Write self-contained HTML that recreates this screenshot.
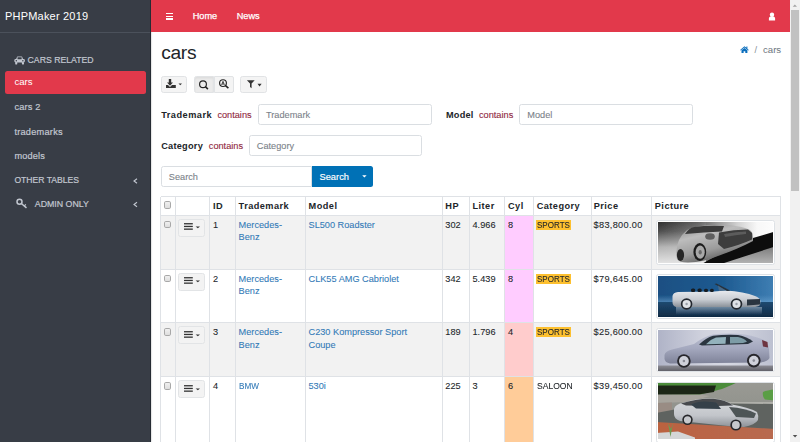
<!DOCTYPE html>
<html><head><meta charset="utf-8">
<style>
*{box-sizing:border-box;margin:0;padding:0}
html,body{width:800px;height:442px;overflow:hidden;background:#fff;font-family:"Liberation Sans",sans-serif;color:#212529}
.a{position:absolute;white-space:nowrap;line-height:1}
#sb{position:absolute;left:0;top:0;width:151px;height:442px;background:#383d46;border-right:1px solid #262b33;box-shadow:.5px 0 1.5px rgba(0,0,0,.25)}
#brand{position:absolute;left:0;top:0;width:150px;height:33px;border-bottom:1px solid #4b515b}
.sbt{color:#c2c7d0;font-size:9.2px;-webkit-text-stroke:.2px #c2c7d0}
#nav{position:absolute;left:151px;top:0;width:639px;height:32px;background:#e2394b}
.nt{color:#fff;font-size:9.2px;-webkit-text-stroke:.25px #fff}
#scr{position:absolute;left:790px;top:0;width:10px;height:442px;background:#f1f1f1}
#thumb{position:absolute;left:791px;top:10px;width:8px;height:181.4px;background:#c1c1c1}
.btn{position:absolute;background:#f4f4f4;border:1px solid #e1e3e5;border-radius:2.5px}
.inp{position:absolute;background:#fff;border:1px solid #dadee2;border-radius:2.5px}
.ph{color:#7b8289;font-size:9.2px;-webkit-text-stroke:.1px currentColor}
.lbl{font-weight:bold;font-size:9.2px;letter-spacing:.5px;color:#212529}
.op{color:#912a42;font-size:9.2px;-webkit-text-stroke:.12px currentColor}
.hl{position:absolute;height:1px;background:#dee2e6}
.vl{position:absolute;width:1px;background:#dee2e6}
.th{font-weight:bold;font-size:9.2px;letter-spacing:.45px}
.td{font-size:9.2px;-webkit-text-stroke:.08px currentColor}
.lk{color:#337ab7}
.cb{position:absolute;width:7.4px;height:7.5px;border:1px solid #a8a8a8;border-radius:1.8px;background:linear-gradient(#f0f0f0,#dedede)}
.dd{position:absolute;width:27px;height:18.2px;background:#f3f3f3;border:1px solid #e2e4e6;border-radius:2.5px}
.frm{position:absolute;background:#fff;border:1px solid #dee2e6;border-radius:2.5px}
</style></head><body>
<div id="sb">
 <div id="brand"></div>
</div>
<div class="a" style="left:5px;top:11px;color:#fff;font-size:11px;letter-spacing:.2px">PHPMaker 2019</div>
<!-- sidebar items -->
<div class="a sbt" style="left:27.6px;top:55.8px;font-size:8.7px">CARS RELATED</div>
<div style="position:absolute;left:5px;top:71px;width:141px;height:22.6px;background:#e2394b;border-radius:2.5px"></div>
<div class="a" style="left:14.4px;top:76.8px;color:#fff;font-size:9.6px">cars</div>
<div class="a sbt" style="left:14.4px;top:103.3px;letter-spacing:.2px">cars 2</div>
<div class="a sbt" style="left:14.4px;top:127.5px;letter-spacing:.25px">trademarks</div>
<div class="a sbt" style="left:14.4px;top:151.8px;letter-spacing:.15px">models</div>
<div class="a sbt" style="left:14.4px;top:176.3px;font-size:8.6px">OTHER TABLES</div>
<div class="a sbt" style="left:34.8px;top:200.2px;font-size:8.8px">ADMIN ONLY</div>
<svg style="position:absolute;left:130px;top:175px" width="10" height="36" viewBox="0 0 10 36"><g fill="none" stroke="#c2c7d0" stroke-width="1.1"><polyline points="7,3.8 4,6 7,8.2"/><polyline points="7,27.2 4,29.5 7,31.8"/></g></svg>
<svg style="position:absolute;left:13.6px;top:56.2px" width="11.2" height="8.6" viewBox="0 0 12 9" preserveAspectRatio="none"><g fill="#c2c7d0"><path d="M2.2,3.4 L3.3,0.7 Q3.5,0.4 3.9,0.4 L8.1,0.4 Q8.5,0.4 8.7,0.7 L9.8,3.4 Z"/><rect x="0.4" y="3.2" width="11.2" height="3.6" rx="1.2"/><rect x="1.3" y="6.4" width="2.2" height="2.4" rx=".5"/><rect x="8.5" y="6.4" width="2.2" height="2.4" rx=".5"/></g><rect x="3.8" y="1.3" width="4.4" height="2.1" fill="#383d46"/><circle cx="2.5" cy="5" r=".8" fill="#383d46"/><circle cx="9.5" cy="5" r=".8" fill="#383d46"/></svg>
<svg style="position:absolute;left:15px;top:197px" width="13" height="12" viewBox="0 0 13 12"><g fill="none" stroke="#c2c7d0"><circle cx="4.5" cy="4.7" r="2.5" stroke-width="1.5"/><line x1="6.3" y1="6.5" x2="11.5" y2="10.8" stroke-width="1.5"/><line x1="9.3" y1="8.8" x2="10.8" y2="7.3" stroke-width="1.2"/></g></svg>

<!-- navbar -->
<div id="nav"></div>
<div style="position:absolute;left:165.5px;top:13px;width:7.5px;height:1.4px;background:#fff"></div>
<div style="position:absolute;left:165.5px;top:15.7px;width:7.5px;height:1.4px;background:#fff"></div>
<div style="position:absolute;left:165.5px;top:18.3px;width:7.5px;height:1.4px;background:#fff"></div>
<div class="a nt" style="left:192.7px;top:11.8px">Home</div>
<div class="a nt" style="left:236.7px;top:11.8px">News</div>
<svg style="position:absolute;left:768px;top:11.5px" width="8" height="9" viewBox="0 0 8 9"><circle cx="4" cy="2.7" r="2.2" fill="#fff"/><path d="M0.9,8.6 L0.9,6.6 Q0.9,4.6 2.9,4.6 L5.1,4.6 Q7.1,4.6 7.1,6.6 L7.1,8.6 Z" fill="#fff"/></svg>

<!-- content -->
<div class="a" style="left:161.3px;top:42.9px;font-size:19.2px;letter-spacing:-.35px;color:#212529">cars</div>
<svg style="position:absolute;left:739.8px;top:45.8px" width="9" height="7.4" viewBox="0 0 9 7.4"><path d="M4.45,0.2 L0.1,3.9 L0.7,4.5 L4.45,1.4 L8.2,4.5 L8.8,3.9 L7.4,2.7 L7.4,0.5 L6.4,0.5 L6.4,1.8 Z" fill="#0a6ebd"/><path d="M1.5,4.3 L4.45,1.9 L7.4,4.3 L7.4,7.2 L5.3,7.2 L5.3,5.2 L3.6,5.2 L3.6,7.2 L1.5,7.2 Z" fill="#0a6ebd"/></svg>
<div class="a" style="left:754.5px;top:45.8px;font-size:9.2px;color:#868e96">/</div>
<div class="a" style="left:763px;top:44.9px;font-size:9.6px;color:#6c757d">cars</div>

<div class="btn" style="left:161.3px;top:76.2px;width:26.2px;height:17.3px"></div>
<div class="btn" style="left:194px;top:76.2px;width:20px;height:17.3px;background:#ebebeb;border-radius:2.5px 0 0 2.5px;box-shadow:inset 0 1.5px 2px rgba(0,0,0,.06)"></div>
<div class="btn" style="left:213.5px;top:76.2px;width:20px;height:17.3px;border-radius:0 2px 2px 0"></div>
<div class="btn" style="left:240.2px;top:76.2px;width:26.5px;height:17.3px"></div>
<svg style="position:absolute;left:165px;top:78px" width="20" height="12" viewBox="0 0 20 12"><g fill="#333"><path d="M3.8,1 L6.2,1 L6.2,4.5 L8,4.5 L5,7.8 L2,4.5 L3.8,4.5 Z"/><path d="M1,7 L3,7 L5,9 L7,7 L10.8,7 L10.8,10 L1,10 Z"/><path d="M13.5,5.5 L17,5.5 L15.25,7.2 Z"/></g></svg>
<svg style="position:absolute;left:196px;top:77px" width="36" height="16" viewBox="0 0 36 16"><g fill="none" stroke="#222"><circle cx="7" cy="7.2" r="3.4" stroke-width="1.15"/><line x1="9.5" y1="9.7" x2="11.9" y2="12.1" stroke-width="1.6"/><circle cx="27" cy="6.1" r="3.4" stroke-width="1.15"/><line x1="29.5" y1="8.6" x2="32.4" y2="11.1" stroke-width="1.6"/><path d="M25.6,7.9 L27,4.3 L28.4,7.9 M26,7 L28,7" stroke-width=".8"/></g></svg>
<svg style="position:absolute;left:246px;top:79px" width="18" height="11" viewBox="0 0 18 11"><g fill="#333"><path d="M0.9,1.2 L8.7,1.2 L5.6,4.6 L5.6,9.2 L4,8 L4,4.6 Z"/><path d="M11.5,4.8 L15.6,4.8 L13.55,7.4 Z"/></g></svg>

<div class="a lbl" style="left:161.2px;top:110.8px">Trademark</div>
<div class="a op" style="left:217.4px;top:111px">contains</div>
<div class="inp" style="left:258px;top:104px;width:173.5px;height:21px"></div>
<div class="a ph" style="left:266px;top:111px">Trademark</div>
<div class="a lbl" style="left:446px;top:110.8px;letter-spacing:.2px">Model</div>
<div class="a op" style="left:479px;top:111px">contains</div>
<div class="inp" style="left:519.3px;top:104px;width:173.5px;height:21px"></div>
<div class="a ph" style="left:527.3px;top:111px">Model</div>

<div class="a lbl" style="left:161.2px;top:142px;letter-spacing:.25px">Category</div>
<div class="a op" style="left:208.8px;top:142px">contains</div>
<div class="inp" style="left:248.8px;top:135.2px;width:173.5px;height:20.5px"></div>
<div class="a ph" style="left:256.8px;top:142px">Category</div>

<div class="inp" style="left:161.2px;top:165.6px;width:151px;height:21.2px;border-radius:2.5px 0 0 2.5px"></div>
<div class="a ph" style="left:168.8px;top:172.5px">Search</div>
<div style="position:absolute;left:311.6px;top:165.6px;width:61.1px;height:21.2px;background:#0071b6;border-radius:0 2.5px 2.5px 0"></div>
<div class="a" style="left:319.5px;top:172.8px;font-size:9.3px;color:#fff;-webkit-text-stroke:.15px #fff">Search</div>
<svg style="position:absolute;left:361px;top:174px" width="7" height="5" viewBox="0 0 7 5"><path d="M1.2,1.2 L5.6,1.2 L3.4,3.5 Z" fill="#fff"/></svg>
<!--T-->
<div style="position:absolute;left:160.6px;top:196.6px;width:620.1999999999999px;height:253.4px;background:#fff"></div>
<div style="position:absolute;left:160.6px;top:215.2px;width:620.1999999999999px;height:54.10000000000002px;background:#f2f2f2"></div>
<div style="position:absolute;left:160.6px;top:322.9px;width:620.1999999999999px;height:54.0px;background:#f2f2f2"></div>
<div style="position:absolute;left:504.8px;top:215.2px;width:28.69999999999999px;height:54.10000000000002px;background:#ffccff"></div>
<div style="position:absolute;left:504.8px;top:269.3px;width:28.69999999999999px;height:53.599999999999966px;background:#ffccff"></div>
<div style="position:absolute;left:504.8px;top:322.9px;width:28.69999999999999px;height:54.0px;background:#ffcccc"></div>
<div style="position:absolute;left:504.8px;top:376.9px;width:28.69999999999999px;height:73.10000000000002px;background:#ffcc99"></div>
<div style="position:absolute;left:160.6px;top:196.1px;width:620.1999999999999px;height:1px;background:#dfe2e6"></div>
<div style="position:absolute;left:160.6px;top:214.5px;width:620.1999999999999px;height:1px;background:#dfe2e6"></div>
<div style="position:absolute;left:160.6px;top:268.8px;width:620.1999999999999px;height:1px;background:#dfe2e6"></div>
<div style="position:absolute;left:160.6px;top:322.4px;width:620.1999999999999px;height:1px;background:#dfe2e6"></div>
<div style="position:absolute;left:160.6px;top:376.4px;width:620.1999999999999px;height:1px;background:#dfe2e6"></div>
<div style="position:absolute;left:160.1px;top:196.6px;width:1px;height:253.4px;background:#dfe2e6"></div>
<div style="position:absolute;left:174.9px;top:196.6px;width:1px;height:253.4px;background:#dfe2e6"></div>
<div style="position:absolute;left:208.9px;top:196.6px;width:1px;height:253.4px;background:#dfe2e6"></div>
<div style="position:absolute;left:234.9px;top:196.6px;width:1px;height:253.4px;background:#dfe2e6"></div>
<div style="position:absolute;left:304.9px;top:196.6px;width:1px;height:253.4px;background:#dfe2e6"></div>
<div style="position:absolute;left:441.6px;top:196.6px;width:1px;height:253.4px;background:#dfe2e6"></div>
<div style="position:absolute;left:468.8px;top:196.6px;width:1px;height:253.4px;background:#dfe2e6"></div>
<div style="position:absolute;left:504.3px;top:196.6px;width:1px;height:253.4px;background:#dfe2e6"></div>
<div style="position:absolute;left:533.0px;top:196.6px;width:1px;height:253.4px;background:#dfe2e6"></div>
<div style="position:absolute;left:590.5px;top:196.6px;width:1px;height:253.4px;background:#dfe2e6"></div>
<div style="position:absolute;left:651.0px;top:196.6px;width:1px;height:253.4px;background:#dfe2e6"></div>
<div style="position:absolute;left:780.3px;top:196.6px;width:1px;height:253.4px;background:#dfe2e6"></div>
<div class="a th" style="left:213px;top:201.61px">ID</div>
<div class="a th" style="left:238.6px;top:201.61px">Trademark</div>
<div class="a th" style="left:308.6px;top:201.61px">Model</div>
<div class="a th" style="left:445.3px;top:201.61px">HP</div>
<div class="a th" style="left:472.5px;top:201.61px">Liter</div>
<div class="a th" style="left:508px;top:201.61px">Cyl</div>
<div class="a th" style="left:536.7px;top:201.61px">Category</div>
<div class="a th" style="left:593.75px;top:201.61px">Price</div>
<div class="a th" style="left:654.8px;top:201.61px">Picture</div>
<div class="cb" style="left:164px;top:201.4px"></div>
<div class="cb" style="left:164px;top:220.5px"></div>
<div class="dd" style="left:178.2px;top:218.5px"></div>
<svg style="position:absolute;left:183px;top:222.2px" width="19" height="8" viewBox="0 0 19 8"><g fill="#333"><rect x="1" y="1.1" width="8.8" height="1.3"/><rect x="1" y="3.8" width="8.8" height="1.3"/><rect x="1" y="6.5" width="8.8" height="1.3"/><path d="M12.6,4.4 L17,4.4 L14.8,6.3 Z"/></g></svg>
<div class="a td" style="left:213px;top:220.51px">1</div>
<div class="a td lk" style="left:238.6px;top:220.51px">Mercedes-</div>
<div class="a td lk" style="left:238.6px;top:232.91px">Benz</div>
<div class="a td lk" style="left:308.5px;top:220.51px">SL500 Roadster</div>
<div class="a td" style="left:445.3px;top:220.51px">302</div>
<div class="a td" style="left:472.5px;top:220.51px">4.966</div>
<div class="a td" style="left:508px;top:220.51px">8</div>
<div style="position:absolute;left:536.2px;top:219.5px;width:34.5px;height:10px;background:#fdc02f"></div>
<div class="a td" style="left:537px;top:220.51px;transform:scaleX(0.875);transform-origin:0 0">SPORTS</div>
<div class="a td" style="left:593.6px;top:220.51px;letter-spacing:.3px">$83,800.00</div>
<div class="frm" style="left:655.7px;top:220.1px;width:119.1px;height:44.7px"></div>
<!--IMG0--><svg style="position:absolute;left:657.8px;top:222.1px" width="115" height="41" viewBox="0 0 115 41" preserveAspectRatio="none">
<defs><linearGradient id="a1" x1="0" y1="0" x2="1" y2="0"><stop offset="0" stop-color="#262626"/><stop offset=".35" stop-color="#5e5e5e"/><stop offset=".68" stop-color="#cfcfcf"/><stop offset=".85" stop-color="#f8f8f8"/><stop offset="1" stop-color="#fdfdfd"/></linearGradient>
<linearGradient id="a2" x1="0" y1="0" x2="0" y2="1"><stop offset="0" stop-color="#e2e2e2" stop-opacity="0"/><stop offset=".25" stop-color="#e2e2e2" stop-opacity=".2"/><stop offset=".6" stop-color="#e2e2e2" stop-opacity=".75"/><stop offset="1" stop-color="#e8e8e8" stop-opacity="1"/></linearGradient>
<linearGradient id="a3" x1="0" y1="0" x2="0" y2="1"><stop offset="0" stop-color="#777"/><stop offset="1" stop-color="#b8b8b8"/></linearGradient>
<linearGradient id="s1" x1="0" y1="0" x2=".5" y2="1"><stop offset="0" stop-color="#7e7e7e"/><stop offset=".35" stop-color="#bdbdbd"/><stop offset=".7" stop-color="#9c9c9c"/><stop offset="1" stop-color="#5a5a5a"/></linearGradient>
<filter id="bl1"><feGaussianBlur stdDeviation=".5"/></filter></defs>
<g filter="url(#bl1)">
<rect x="-2" y="-2" width="119" height="45" fill="url(#a1)"/>
<rect x="-2" y="-2" width="50" height="45" fill="url(#a2)"/>
<path d="M56,43 L117,23 L117,43 Z" fill="url(#a3)"/>
<path d="M42,43 L70,27 L95,16 L117,9.5 L117,24.5 L60,43 Z" fill="#0c0c0c"/>
<path d="M19,37 Q17,27 21,18 Q24,12 29,8 Q35,4.5 50,3 L70,3 Q84,4 91,7.5 Q95,10 95,14 L95,19 Q80,27 60,34 Q46,40 30,40.5 Q21,40.5 19,37 Z" fill="url(#s1)"/>
<path d="M27,12 Q31,6 36,5 Q50,3.2 66,4 L64,9.5 Q46,10 27,12 Z" fill="#3a3a3a"/>
<path d="M61,10.5 Q76,7.5 90,7.5 L94,11 L94,17.5 Q82,23 66,27 L60,22 Z" fill="#3c3c3c"/>
<path d="M66,12 Q78,9.5 88,9.5 L88,12 Q78,13 67,15 Z" fill="#5c5c5c"/>
<ellipse cx="52" cy="14.5" rx="4.8" ry="3.2" fill="#5e5e5e"/>
<ellipse cx="22.5" cy="33" rx="3.6" ry="6" fill="#262626"/>
<ellipse cx="41.8" cy="30" rx="6.4" ry="9" fill="#1e1e1e"/>
<ellipse cx="42.2" cy="30.2" rx="4.5" ry="6.6" fill="#a9a9a9"/>
<ellipse cx="42.2" cy="30.2" rx="1.6" ry="2.2" fill="#6a6a6a"/>
</g></svg><!--/IMG0-->
<div class="cb" style="left:164px;top:274.6px"></div>
<div class="dd" style="left:178.2px;top:272.6px"></div>
<svg style="position:absolute;left:183px;top:276.3px" width="19" height="8" viewBox="0 0 19 8"><g fill="#333"><rect x="1" y="1.1" width="8.8" height="1.3"/><rect x="1" y="3.8" width="8.8" height="1.3"/><rect x="1" y="6.5" width="8.8" height="1.3"/><path d="M12.6,4.4 L17,4.4 L14.8,6.3 Z"/></g></svg>
<div class="a td" style="left:213px;top:274.61px">2</div>
<div class="a td lk" style="left:238.6px;top:274.61px">Mercedes-</div>
<div class="a td lk" style="left:238.6px;top:287.01px">Benz</div>
<div class="a td lk" style="left:308.5px;top:274.61px">CLK55 AMG Cabriolet</div>
<div class="a td" style="left:445.3px;top:274.61px">342</div>
<div class="a td" style="left:472.5px;top:274.61px">5.439</div>
<div class="a td" style="left:508px;top:274.61px">8</div>
<div style="position:absolute;left:536.2px;top:273.6px;width:34.5px;height:10px;background:#fdc02f"></div>
<div class="a td" style="left:537px;top:274.61px;transform:scaleX(0.875);transform-origin:0 0">SPORTS</div>
<div class="a td" style="left:593.6px;top:274.61px;letter-spacing:.3px">$79,645.00</div>
<div class="frm" style="left:655.7px;top:274.2px;width:119.1px;height:44.7px"></div>
<!--IMG1--><svg style="position:absolute;left:657.8px;top:275.9px" width="115" height="41" viewBox="0 0 115 41" preserveAspectRatio="none">
<defs><linearGradient id="b1" x1="0" y1="0" x2="1" y2="0"><stop offset="0" stop-color="#1a4f82"/><stop offset=".55" stop-color="#1d5a90"/><stop offset="1" stop-color="#3f7fb4"/></linearGradient>
<linearGradient id="b1v" x1="0" y1="0" x2="0" y2="1"><stop offset="0" stop-color="#6fa6d2" stop-opacity="0"/><stop offset=".75" stop-color="#6fa6d2" stop-opacity="0"/><stop offset="1" stop-color="#6fa6d2" stop-opacity=".55"/></linearGradient>
<linearGradient id="b2" x1="0" y1="0" x2="0" y2="1"><stop offset="0" stop-color="#1f4a70"/><stop offset="1" stop-color="#0e2740"/></linearGradient>
<linearGradient id="s2" x1="0" y1="0" x2="0" y2="1"><stop offset="0" stop-color="#e8eaee"/><stop offset=".55" stop-color="#c8ccd2"/><stop offset="1" stop-color="#8a9199"/></linearGradient>
<linearGradient id="r2" x1="0" y1="0" x2="0" y2="1"><stop offset="0" stop-color="#8aa0b4" stop-opacity=".75"/><stop offset="1" stop-color="#8aa0b4" stop-opacity="0"/></linearGradient>
<filter id="bl2"><feGaussianBlur stdDeviation=".45"/></filter></defs>
<g filter="url(#bl2)">
<rect x="-2" y="-2" width="119" height="45" fill="url(#b1)"/>
<rect x="-2" y="-2" width="119" height="28" fill="url(#b1v)"/>
<rect x="-2" y="26" width="119" height="17" fill="url(#b2)"/>
<rect x="18" y="31" width="86" height="8" fill="url(#r2)"/>
<path d="M14.5,20 Q15,16.5 20,16 L56,15.5 L68,14.5 Q86,15.5 97,20 Q102,22 102.5,25 L102,29 Q100,31 95,31 L18,31 Q14.5,30 14.5,26 Z" fill="url(#s2)"/>
<path d="M56.5,8 L58.5,7.6 L72.5,14.8 L69,15 Z" fill="#27323c"/>
<path d="M60,9.5 L68,14.5 L61,15 Z" fill="#5a7088" opacity=".7"/>
<rect x="33" y="12.5" width="4.2" height="3.6" rx="1.6" fill="#151a20"/><rect x="39.5" y="12.5" width="4.2" height="3.6" rx="1.6" fill="#151a20"/><rect x="46" y="12.8" width="4" height="3.3" rx="1.5" fill="#151a20"/><rect x="52" y="12.8" width="3.8" height="3.3" rx="1.5" fill="#151a20"/>
<circle cx="28.6" cy="28" r="5.8" fill="#23282e"/><circle cx="28.6" cy="28" r="4.1" fill="#dfe2e6"/><circle cx="28.6" cy="28" r="1.2" fill="#9aa0a8"/>
<circle cx="78.5" cy="28" r="5.8" fill="#23282e"/><circle cx="78.5" cy="28" r="4.1" fill="#dfe2e6"/><circle cx="78.5" cy="28" r="1.2" fill="#9aa0a8"/>
<path d="M89,23.5 L102,23 L102,28.5 L89,29.5 Z" fill="#2a3440"/>
</g></svg><!--/IMG1-->
<div class="cb" style="left:164px;top:328.2px"></div>
<div class="dd" style="left:178.2px;top:326.2px"></div>
<svg style="position:absolute;left:183px;top:329.9px" width="19" height="8" viewBox="0 0 19 8"><g fill="#333"><rect x="1" y="1.1" width="8.8" height="1.3"/><rect x="1" y="3.8" width="8.8" height="1.3"/><rect x="1" y="6.5" width="8.8" height="1.3"/><path d="M12.6,4.4 L17,4.4 L14.8,6.3 Z"/></g></svg>
<div class="a td" style="left:213px;top:328.21px">3</div>
<div class="a td lk" style="left:238.6px;top:328.21px">Mercedes-</div>
<div class="a td lk" style="left:238.6px;top:340.61px">Benz</div>
<div class="a td lk" style="left:308.5px;top:328.21px">C230 Kompressor Sport</div>
<div class="a td lk" style="left:308.5px;top:340.61px">Coupe</div>
<div class="a td" style="left:445.3px;top:328.21px">189</div>
<div class="a td" style="left:472.5px;top:328.21px">1.796</div>
<div class="a td" style="left:508px;top:328.21px">4</div>
<div style="position:absolute;left:536.2px;top:327.2px;width:34.5px;height:10px;background:#fdc02f"></div>
<div class="a td" style="left:537px;top:328.21px;transform:scaleX(0.875);transform-origin:0 0">SPORTS</div>
<div class="a td" style="left:593.6px;top:328.21px;letter-spacing:.3px">$25,600.00</div>
<div class="frm" style="left:655.7px;top:327.79999999999995px;width:119.1px;height:44.7px"></div>
<!--IMG2--><svg style="position:absolute;left:657.8px;top:329.9px" width="115" height="41" viewBox="0 0 115 41" preserveAspectRatio="none">
<defs><linearGradient id="c1" x1="0" y1="0" x2="1" y2="0"><stop offset="0" stop-color="#aeb2c6"/><stop offset=".4" stop-color="#d0d2de"/><stop offset=".6" stop-color="#d6d8e2"/><stop offset="1" stop-color="#bcc0d0"/></linearGradient>
<linearGradient id="c2" x1="0" y1="0" x2="0" y2="1"><stop offset="0" stop-color="#8c8c94"/><stop offset="1" stop-color="#4e4e56"/></linearGradient>
<linearGradient id="s3" x1="0" y1="0" x2="0" y2="1"><stop offset="0" stop-color="#bcc0d2"/><stop offset=".5" stop-color="#a4a8be"/><stop offset="1" stop-color="#7e8298"/></linearGradient>
<filter id="bl3"><feGaussianBlur stdDeviation=".45"/></filter></defs>
<g filter="url(#bl3)">
<rect x="-2" y="-2" width="119" height="45" fill="url(#c1)"/>
<rect x="-2" y="35.5" width="119" height="8" fill="url(#c2)"/>
<path d="M6.5,25 Q7,21 14,19.5 L36,14 Q45,7 55,4.5 Q66,3 80,3.8 Q94,5 105,9.5 Q110,12 111,19 L111.5,28 Q110,31 103,32.5 L12,33.5 Q7,32.5 6.5,29 Z" fill="url(#s3)"/>
<path d="M41,14.5 Q48,8 55,5.8 Q66,4.5 80,5 Q89,6.5 95,11.5 L90,14 L44,15.5 Z" fill="#2c3640"/>
<path d="M48,14.2 Q53,9 58,7.5 L68,7 L67.5,13.8 Z" fill="#93b2bc"/><path d="M72,13.5 L72,7 L80,7 Q86,8 89,11.8 L85,13 Z" fill="#7d9ca6"/>
<path d="M104,10 L109.5,12 L110,17.5 L105,16.5 Z" fill="#6e3440"/>
<circle cx="25.9" cy="31" r="6.8" fill="#26262c"/><circle cx="25.9" cy="31" r="4.9" fill="#cfd1da"/><circle cx="25.9" cy="31" r="1.3" fill="#8a8c96"/>
<circle cx="95.8" cy="30.6" r="6.8" fill="#26262c"/><circle cx="95.8" cy="30.6" r="4.9" fill="#cfd1da"/><circle cx="95.8" cy="30.6" r="1.3" fill="#8a8c96"/>
</g></svg><!--/IMG2-->
<div class="cb" style="left:164px;top:382.2px"></div>
<div class="dd" style="left:178.2px;top:380.2px"></div>
<svg style="position:absolute;left:183px;top:383.9px" width="19" height="8" viewBox="0 0 19 8"><g fill="#333"><rect x="1" y="1.1" width="8.8" height="1.3"/><rect x="1" y="3.8" width="8.8" height="1.3"/><rect x="1" y="6.5" width="8.8" height="1.3"/><path d="M12.6,4.4 L17,4.4 L14.8,6.3 Z"/></g></svg>
<div class="a td" style="left:213px;top:382.21px">4</div>
<div class="a td lk" style="left:238.6px;top:382.21px;transform:scaleX(.89);transform-origin:0 0">BMW</div>
<div class="a td lk" style="left:308.5px;top:382.21px">530i</div>
<div class="a td" style="left:445.3px;top:382.21px">225</div>
<div class="a td" style="left:472.5px;top:382.21px">3</div>
<div class="a td" style="left:508px;top:382.21px">6</div>
<div class="a td" style="left:537px;top:382.21px;transform:scaleX(0.93);transform-origin:0 0">SALOON</div>
<div class="a td" style="left:593.6px;top:382.21px;letter-spacing:.3px">$39,450.00</div>
<div class="frm" style="left:655.7px;top:381.79999999999995px;width:119.1px;height:61px"></div>
<!--IMG3--><svg style="position:absolute;left:657.8px;top:383.3px" width="115" height="56" viewBox="0 0 115 56" preserveAspectRatio="none">
<defs><linearGradient id="d1" x1="0" y1="0" x2="0" y2="1"><stop offset="0" stop-color="#9a9a94"/><stop offset="1" stop-color="#868a84"/></linearGradient>
<linearGradient id="s4" x1="0" y1="0" x2="0" y2="1"><stop offset="0" stop-color="#d8dadd"/><stop offset=".6" stop-color="#c2c5ca"/><stop offset="1" stop-color="#8e9298"/></linearGradient>
<linearGradient id="k4" x1="0" y1="0" x2="1" y2="0"><stop offset="0" stop-color="#bb6240"/><stop offset="1" stop-color="#b86a50"/></linearGradient>
<filter id="bl4"><feGaussianBlur stdDeviation=".5"/></filter></defs>
<g filter="url(#bl4)">
<rect x="-2" y="-2" width="119" height="60" fill="url(#d1)"/>
<path d="M-2,-2 L82,-2 Q74,2 64,6 L40,12 L-2,13 Z" fill="#4c8c3a"/>
<path d="M-2,2.5 L58,2.5 L56,9 L40,11.5 L-2,12 Z" fill="#1e2818"/>
<path d="M-2,11.5 L40,11.5 L52,13 L30,19 L-2,20 Z" fill="#a7a49d"/>
<path d="M-2,20 L14,19.5 L14,30 L-2,32 Z" fill="#998c84"/>
<path d="M105,9 Q109,7 117,6.5 L117,17.5 L107,16.5 Q104,13 105,9 Z" fill="#5a9e45"/>
<path d="M60,19 L117,19 L117,21 L60,21 Z" fill="#b0b0aa"/>
<path d="M-2,30 L14,27 L40,20 L117,21 L117,50 L-2,40 Z" fill="#5e6460"/>
<path d="M-2,39 L117,46 L117,58 L-2,58 Z" fill="url(#k4)"/>
<path d="M-2,50 L20,48.5 L37,54.5 L37,58 L-2,58 Z" fill="#d4d6d7"/>
<path d="M10,40 L12.5,54 L15,40 L13,46 Z" fill="#6d9a52"/>
<path d="M16,26 Q17,21 26,19.5 Q40,15 54,15.5 Q66,16 74,21.5 Q90,24 99,29 Q101,33 100,37 Q97,42 86,44 L70,43 L22,38 Q16,36 16,31 Z" fill="url(#s4)"/>
<path d="M23,20.5 Q40,15 55,15.8 Q67,16.5 75,22.5 L60,23 L28,22.5 Z" fill="#46494e"/>
<path d="M33,21.5 Q39,18.5 47,18.5 L58,19.5 L63,26 L38,25.5 Z" fill="#34404a"/>
<path d="M71,24 Q88,25 98,30.5 L96,35 L78,34 Z" fill="#4e5456"/>
<circle cx="29.5" cy="36.8" r="5.2" fill="#25272a"/><circle cx="29.5" cy="36.8" r="3.6" fill="#c6c8cc"/>
<circle cx="77.9" cy="42" r="5.6" fill="#25272a"/><circle cx="77.9" cy="42" r="3.9" fill="#c6c8cc"/>
</g></svg><!--/IMG3-->
<!--/T-->
<div id="scr"></div><div id="thumb"></div>
<svg style="position:absolute;left:790px;top:0" width="10" height="442" viewBox="0 0 10 442"><path d="M2.7,6.8 L7,6.8 L4.85,4.4 Z" fill="#a3a3a3"/><path d="M2.8,435 L7.3,435 L5.05,437.6 Z" fill="#505050"/></svg>

</body></html>
